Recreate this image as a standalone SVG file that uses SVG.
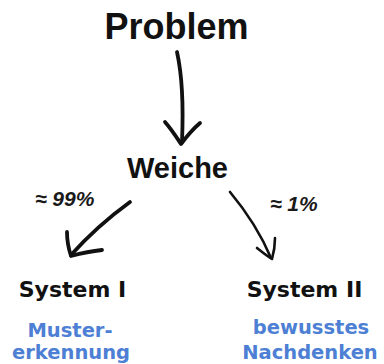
<svg xmlns="http://www.w3.org/2000/svg" width="384" height="364" viewBox="0 0 384 364">
<style>
.title{font-family:"Liberation Sans",Arial,sans-serif;font-weight:bold;fill:#111;text-anchor:middle}
.sys{font-family:"DejaVu Sans",Verdana,sans-serif;font-weight:bold;fill:#111;text-anchor:middle;font-size:22px}
.blue{font-family:"DejaVu Sans",Verdana,sans-serif;font-weight:bold;fill:#4d7fd4;text-anchor:middle;font-size:19.5px}
.pct{font-family:"Liberation Sans",Arial,sans-serif;font-weight:bold;font-style:italic;fill:#1a1a1a;font-size:21px}
.arr{fill:none;stroke:#111;stroke-width:3.8;stroke-linecap:round;stroke-linejoin:round}
.thin{stroke-width:2.6}
</style>
<rect width="384" height="364" fill="#fff"/>
<g id="problem"><text class="title" x="176.5" y="39" font-size="36">Problem</text></g>
<g id="weiche"><text class="title" x="177.5" y="178" font-size="29">Weiche</text></g>
<g id="system1">
<text class="sys" x="72.5" y="297">System I</text>
<text class="blue" x="70" y="337">Muster-</text>
<text class="blue" x="71" y="359">erkennung</text>
</g>
<g id="system2">
<text class="sys" x="304.5" y="297">System II</text>
<text class="blue" x="311" y="334">bewusstes</text>
<text class="blue" x="310" y="359">Nachdenken</text>
</g>
<g id="connectors">
<path class="arr" d="M177 52 C181 70 184 95 182 142"/>
<path class="arr" d="M165 122 C172 130 177 138 181 144 C187 136 193 129 200 123"/>
<path class="arr" d="M130 202 C108 218 88 236 71 255"/>
<path class="arr" d="M67 232 C67 242 69 250 71 256 C82 253 92 251 102 250"/>
<path class="arr thin" d="M230 192 C245 210 260 232 271 258"/>
<path class="arr thin" d="M257 248 C262 252 267 256 272 259 C274 252 275 245 275 238"/>
</g>
<g id="labels">
<text class="pct" x="35" y="206">≈ 99%</text>
<text class="pct" x="270" y="211">≈ 1%</text>
</g>
</svg>
